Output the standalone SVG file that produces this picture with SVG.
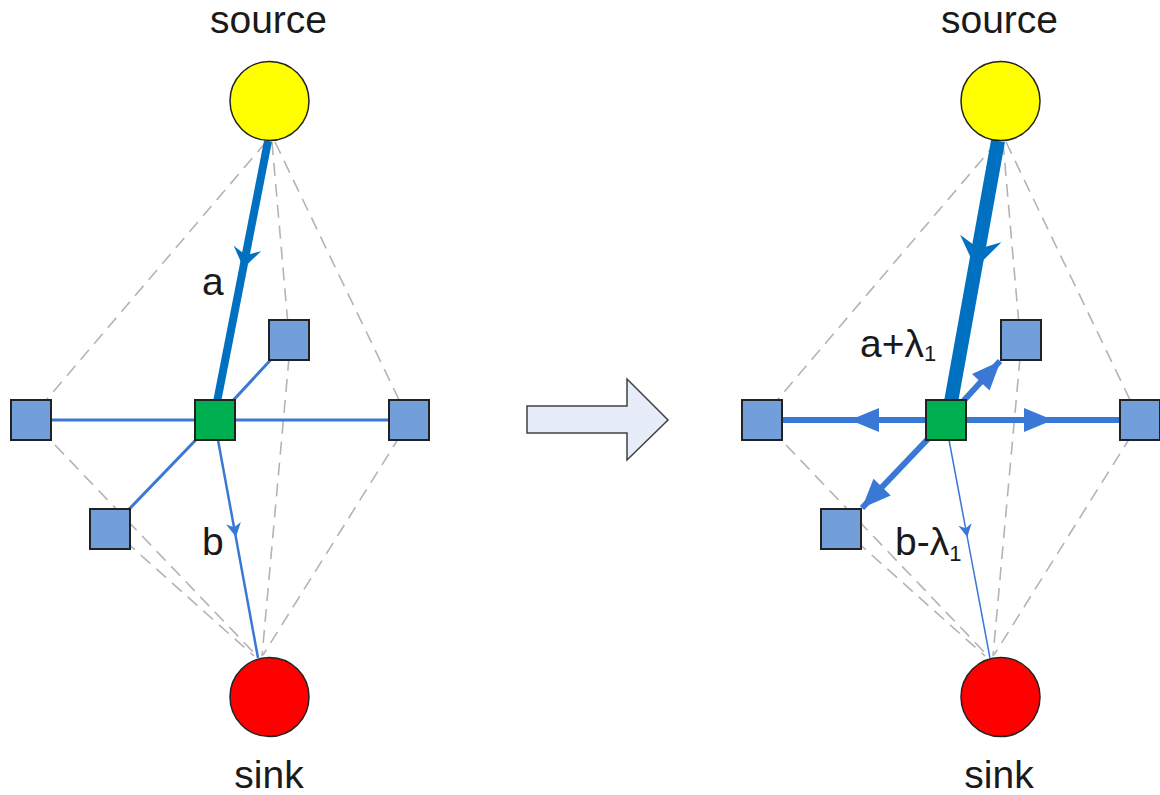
<svg xmlns="http://www.w3.org/2000/svg" xmlns:xlink="http://www.w3.org/1999/xlink" width="1160" height="795" viewBox="0 0 1160 795">
  <style>
    text { font-family: "Liberation Sans", Arial, sans-serif; font-size: 39px; fill: #1a1a1a; }
    .sub { font-size: 22px; }
    .dash { stroke: #b4b4b4; stroke-width: 1.6; stroke-dasharray: 13 8; fill: none; }
    .flow { stroke: #3a78d6; fill: none; }
    .main { stroke: #0070c0; fill: none; }
    .head { fill: #3a78d6; }
    .headMain { fill: #0070c0; }
    .src { fill: #ffff00; stroke: #222; stroke-width: 1.5; }
    .snk { fill: #ff0000; stroke: #222; stroke-width: 1.5; }
    .hub { fill: #00b050; stroke: #222; stroke-width: 2; }
    .box { fill: #729fd9; stroke: #222; stroke-width: 2; }
  </style>
  <defs>
    <!-- arrowheads, tip at the origin, pointing along +x -->
    <path id="stealth" d="M0,0 L-20,-14 L-13,0 L-20,14 Z"/>
    <path id="small" d="M0,0 L-14,-7.5 L-10,0 L-14,7.5 Z"/>
    <path id="tri" d="M0,0 L-29,-12 L-29,12 Z"/>
  </defs>

  <!-- left network -->
  <g id="left-connectors">
    <line class="dash" x1="266" y1="142" x2="42" y2="405"/>
    <line class="dash" x1="272" y1="142" x2="288" y2="325"/>
    <line class="dash" x1="275" y1="142" x2="401" y2="404"/>
    <line class="dash" x1="55" y1="445" x2="257" y2="656"/>
    <line class="dash" x1="125" y1="541" x2="254" y2="656"/>
    <line class="dash" x1="289" y1="358" x2="262" y2="656"/>
    <line class="dash" x1="400" y1="436" x2="263" y2="655"/>

    <line class="flow" stroke-width="3" x1="31" y1="420" x2="215" y2="420"/>
    <line class="flow" stroke-width="3" x1="215" y1="420" x2="409" y2="420"/>
    <line class="flow" stroke-width="3" x1="215" y1="420" x2="110" y2="529"/>
    <line class="flow" stroke-width="3" x1="215" y1="420" x2="289" y2="340"/>
    <line class="flow" stroke-width="2.5" x1="218" y1="440" x2="258" y2="658"/>
    <use href="#small" class="head" transform="translate(236,537) rotate(79.6)"/>

    <line class="main" stroke-width="8" x1="268" y1="141" x2="217" y2="402"/>
    <use href="#stealth" class="headMain" transform="translate(243.5,268) rotate(101.3)"/>
  </g>

  <g id="left-source"><circle class="src" cx="269.5" cy="101" r="39.5"/><text x="268.5" y="33" text-anchor="middle">source</text></g>
  <g id="left-sink"><circle class="snk" cx="269.5" cy="697" r="39.5"/><text x="269" y="788" text-anchor="middle">sink</text></g>
  <g id="left-hub"><rect class="hub" x="195" y="400" width="40" height="40"/></g>
  <g id="left-west"><rect class="box" x="11" y="400" width="40" height="40"/></g>
  <g id="left-east"><rect class="box" x="389" y="400" width="40" height="40"/></g>
  <g id="left-southwest"><rect class="box" x="90" y="509" width="40" height="40"/></g>
  <g id="left-northeast"><rect class="box" x="269" y="320" width="40" height="40"/></g>
  <g id="left-labels">
    <text x="202" y="295">a</text>
    <text x="202" y="555">b</text>
  </g>

  <!-- transition arrow -->
  <g id="step-arrow">
    <polygon points="527,406 627,406 627,379 668,420 627,460 627,433 527,433" fill="#e6edf8" stroke="#404040" stroke-width="1.5" stroke-linejoin="miter"/>
  </g>

  <!-- right network -->
  <g id="right-connectors">
    <line class="dash" x1="997" y1="142" x2="773" y2="405"/>
    <line class="dash" x1="1003" y1="142" x2="1019" y2="325"/>
    <line class="dash" x1="1006" y1="142" x2="1132" y2="404"/>
    <line class="dash" x1="786" y1="445" x2="988" y2="656"/>
    <line class="dash" x1="856" y1="541" x2="985" y2="656"/>
    <line class="dash" x1="1020" y1="358" x2="993" y2="656"/>
    <line class="dash" x1="1131" y1="436" x2="994" y2="655"/>

    <line class="flow" stroke-width="6" x1="762" y1="420" x2="946" y2="420"/>
    <use href="#tri" class="head" transform="translate(850,420) rotate(180)"/>
    <line class="flow" stroke-width="6" x1="946" y1="420" x2="1140" y2="420"/>
    <use href="#tri" class="head" transform="translate(1053,420)"/>
    <line class="flow" stroke-width="6" x1="946" y1="420" x2="862" y2="508"/>
    <use href="#tri" class="head" transform="translate(862,508) rotate(133.9)"/>
    <line class="flow" stroke-width="6" x1="946" y1="420" x2="1000" y2="361"/>
    <use href="#tri" class="head" transform="translate(1000.5,361) rotate(-47.2)"/>
    <line class="flow" stroke-width="1.5" x1="949" y1="440" x2="990" y2="658"/>
    <use href="#small" class="head" transform="translate(967.3,537) rotate(79.3) scale(0.9)"/>

    <line class="main" stroke-width="14" x1="998" y1="141" x2="951" y2="402"/>
    <use href="#stealth" class="headMain" transform="translate(975.5,268) rotate(100.1) scale(1.5)"/>
  </g>

  <g id="right-source"><circle class="src" cx="1000.5" cy="101" r="39.5"/><text x="999.5" y="33" text-anchor="middle">source</text></g>
  <g id="right-sink"><circle class="snk" cx="1000.5" cy="697" r="39.5"/><text x="999" y="788" text-anchor="middle">sink</text></g>
  <g id="right-hub"><rect class="hub" x="926" y="400" width="40" height="40"/></g>
  <g id="right-west"><rect class="box" x="742" y="400" width="40" height="40"/></g>
  <g id="right-east"><rect class="box" x="1120" y="400" width="40" height="40"/></g>
  <g id="right-southwest"><rect class="box" x="821" y="509" width="40" height="40"/></g>
  <g id="right-northeast"><rect class="box" x="1001" y="320" width="40" height="40"/></g>
  <g id="right-labels">
    <text x="860" y="357">a+λ<tspan class="sub" dy="4">1</tspan></text>
    <text x="895" y="555">b-λ<tspan class="sub" dy="6">1</tspan></text>
  </g>
</svg>
